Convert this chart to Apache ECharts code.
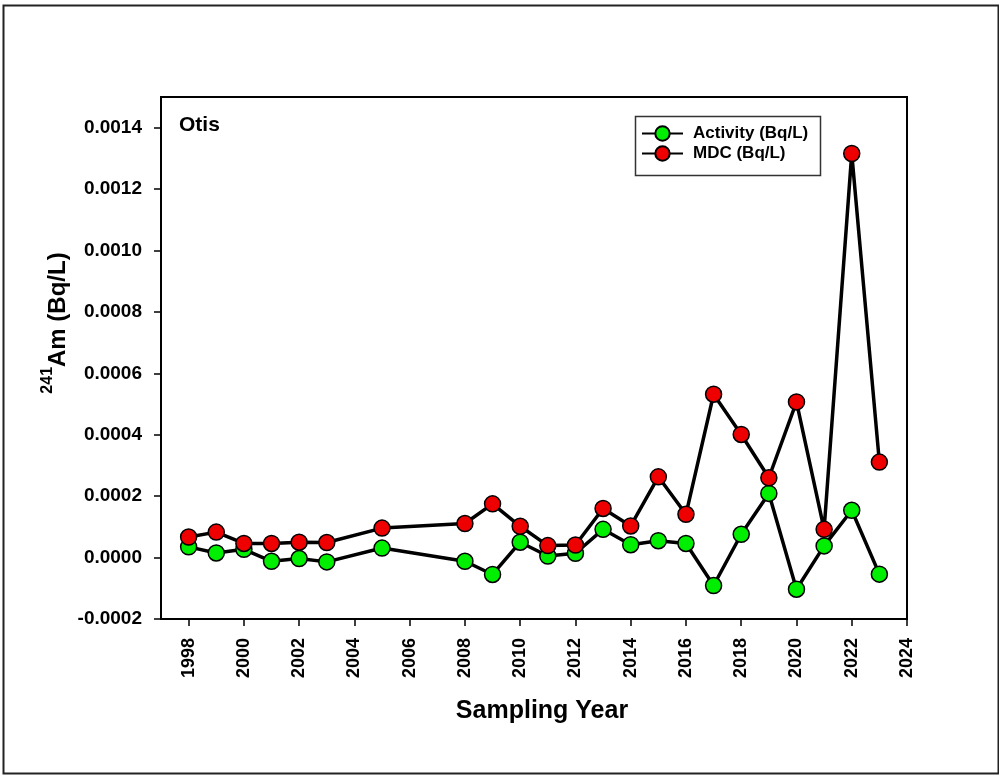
<!DOCTYPE html>
<html>
<head>
<meta charset="utf-8">
<script src="https://cdn.jsdelivr.net/npm/echarts@6/dist/echarts.min.js"></script>
<style>html,body{margin:0;padding:0;background:#fff}#c{width:999px;height:775px}</style>
</head>
<body>
<div id="c"></div>
<script>
const years = [1998,1999,2000,2001,2002,2003,2005,2008,2009,2010,2011,2012,2013,2014,2015,2016,2017,2018,2019,2020,2021,2022,2023];
const activity = [0.000035,0.000015,0.000027,-0.000012,-0.000003,-0.000014,0.000031,-0.000012,-0.000055,0.000050,0.000005,0.000014,0.000092,0.000042,0.000055,0.000046,-0.000091,0.000076,0.000209,-0.000103,0.000038,0.000154,-0.000054];
const mdc = [0.000067,0.000083,0.000046,0.000046,0.000050,0.000049,0.000096,0.000111,0.000175,0.000102,0.000039,0.000041,0.000160,0.000103,0.000263,0.000141,0.000532,0.000401,0.000260,0.000507,0.000092,0.001316,0.000311];
const xTicks = [1998,2000,2002,2004,2006,2008,2010,2012,2014,2016,2018,2020,2022,2024];
const yTicks = [-0.0002,0,0.0002,0.0004,0.0006,0.0008,0.0010,0.0012,0.0014];
const seriesNames = ['Activity (Bq/L)','MDC (Bq/L)'];
const panelLabel = 'Otis';

const FONT = '"Liberation Sans", Arial, sans-serif';
const chart = echarts.init(document.getElementById('c'), null, {renderer:'canvas'});
const mk = (name, vals, color) => ({
  name: name, type: 'line',
  data: years.map((y,i)=>[y, vals[i]]),
  symbol: 'circle', symbolSize: 16,
  itemStyle: {color: color, borderColor: '#000', borderWidth: 1.5},
  lineStyle: {color: '#000', width: 3.5},
  emphasis: {disabled: true},
  animation: false
});
chart.setOption({
  animation: false,
  textStyle: {fontFamily: FONT},
  grid: {left: 161, right: 92, top: 97, bottom: 156, show: true, borderColor: '#000', borderWidth: 2},
  xAxis: {
    type: 'value', min: 1997, max: 2024,
    axisLine: {show: true, onZero: false, lineStyle: {color: '#000', width: 2}},
    axisTick: {show: true, customValues: xTicks, length: 7, inside: false, lineStyle: {color:'#000', width: 1.5}},
    axisLabel: {customValues: xTicks, rotate: 90, margin: 19, color: '#000', fontWeight: 'bold', fontSize: 18, fontFamily: FONT,
      formatter: v => String(v)},
    splitLine: {show: false},
    name: 'Sampling Year', nameLocation: 'middle', nameGap: 80,
    nameTextStyle: {color:'#000', fontWeight:'bold', fontSize: 25, fontFamily: FONT, padding: [0,0,0,16]}
  },
  yAxis: {
    type: 'value', min: -0.0002, max: 0.0015,
    axisLine: {show: true, onZero: false, lineStyle: {color: '#000', width: 2}},
    axisTick: {show: true, customValues: yTicks, length: 7, lineStyle: {color:'#000', width: 1.5}},
    axisLabel: {customValues: yTicks, margin: 19, color: '#000', fontWeight: 'bold', fontSize: 19, fontFamily: FONT,
      formatter: v => v.toFixed(4)},
    splitLine: {show: false}
  },
  legend: {
    data: seriesNames, orient: 'vertical', left: 641, top: 125,
    itemWidth: 41, itemHeight: 18, itemGap: 3, padding: 0,
    textStyle: {color:'#000', fontWeight:'bold', fontSize: 17, fontFamily: FONT, padding: [0,0,0,5]}
  },
  graphic: [
    {type:'rect', left: 1, top: 3, shape:{width: 995, height: 768}, style:{fill:'none', stroke:'#222', lineWidth: 2}, silent: true, z: 0},
    {type:'rect', left: 633, top: 114, shape:{width: 185, height: 59}, style:{fill:'none', stroke:'#333', lineWidth: 1.5}, silent: true, z: 10},
    {type:'text', left: 179, top: 115, style:{text: panelLabel, fill:'#000', font: 'bold 21px ' + FONT}, silent: true, z: 10},
    {type:'text', x: 55, y: 323, rotation: Math.PI/2,
      style:{
        text: '{sup|241}{main|Am (Bq/L)}', align: 'center', verticalAlign: 'middle',
        rich: {
          sup: {fontSize: 16, fontWeight: 'bold', fontFamily: FONT, fill: '#000', verticalAlign: 'top', lineHeight: 16},
          main: {fontSize: 24, fontWeight: 'bold', fontFamily: FONT, fill: '#000', verticalAlign: 'bottom', lineHeight: 30}
        }
      }, silent: true, z: 10}
  ],
  series: [mk(seriesNames[0], activity, '#00ee00'), mk(seriesNames[1], mdc, '#ee0000')]
});
</script>
</body>
</html>
